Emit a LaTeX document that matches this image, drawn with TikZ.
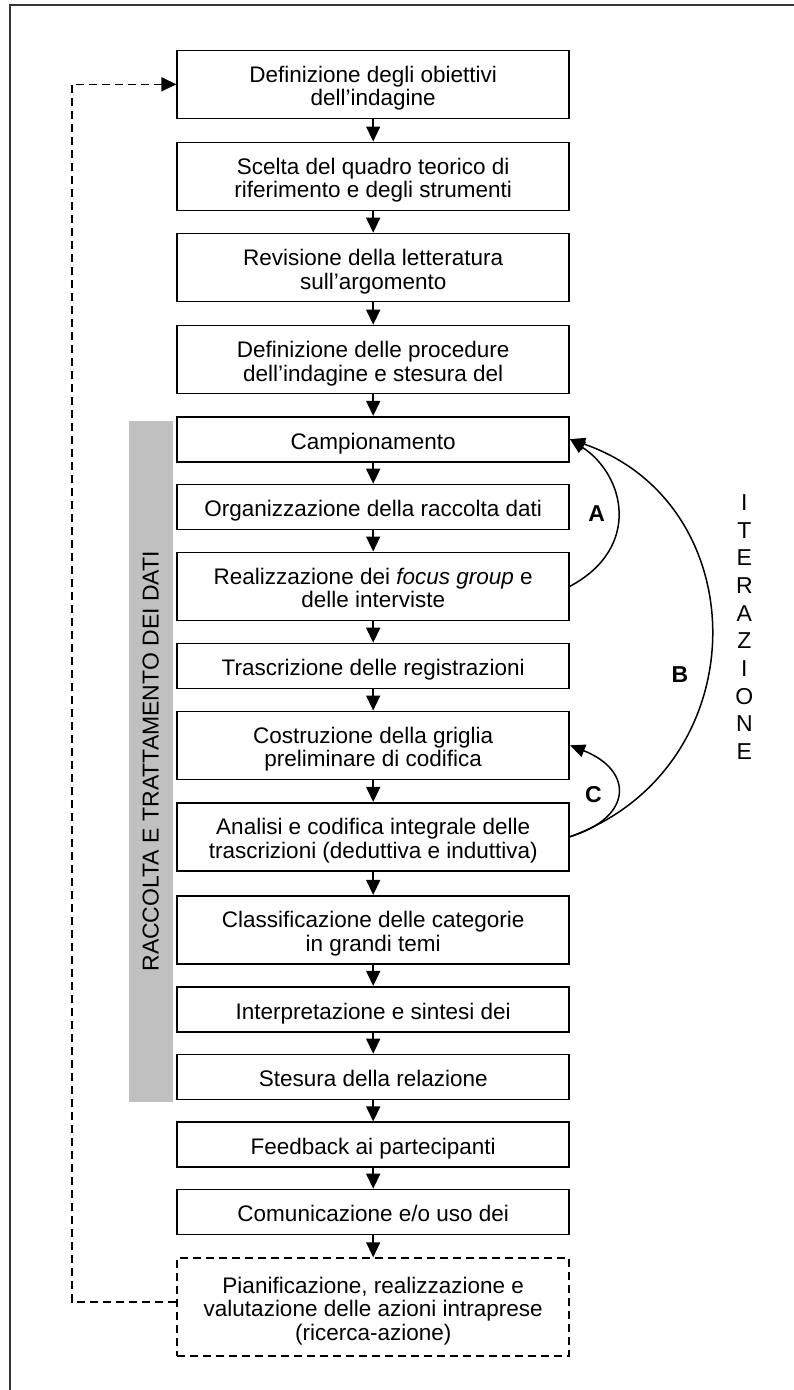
\documentclass[tikz,border=0pt]{standalone}
\usepackage{fontspec}
\setmainfont{Liberation Sans}
\usetikzlibrary{arrows.meta}
\definecolor{barg}{HTML}{C0C0C0}
\newcommand\TopS{\rule{0pt}{24.8pt}}
\newcommand\BotS{\rule[-5pt]{0pt}{5pt}}
\begin{document}
\begin{tikzpicture}[x=1pt,y=1pt,
  box/.style={draw, line width=1.6pt, minimum width=392pt, inner sep=0pt, align=center,
    font=\fontsize{22.5}{23.5}\selectfont},
  one/.style={box, minimum height=45pt},
  two/.style={box, minimum height=68pt},
  three/.style={box, minimum height=98pt},
  dashline/.style={line width=1.5pt, dash pattern=on 8pt off 5pt},
  flow/.style={-{Triangle[length=15pt,width=14pt]}, line width=1.5pt},
  iterloop/.style={-{Triangle[length=15pt,width=13pt]}, line width=1.5pt},
  lab/.style={font=\fontsize{23}{23}\selectfont\bfseries, inner sep=0pt}]
\useasboundingbox (0,0) rectangle (793,-1390);
% outer frame
\draw[line width=2pt, black!80] (9.5,-1392) -- (9.5,-4.5) -- (795,-4.5);
% grey band
\node[fill=barg, rotate=90, minimum width=680.7pt, minimum height=44.2pt, inner sep=0pt,
  font=\fontsize{23}{23}\selectfont] (bar) at (150.6,-761.35) {RACCOLTA E TRATTAMENTO DEI DATI};
% boxes
\node[two] (def1) at (373.2,-84.3) {\TopS Definizione degli obiettivi\\dell’indagine\BotS};
\node[two] (scelta) at (373.2,-176.3) {\TopS Scelta del quadro teorico di\\riferimento e degli strumenti\BotS};
\node[two] (rev) at (373.2,-267.5) {\TopS Revisione della letteratura\\sull’argomento\BotS};
\node[two] (def2) at (373.2,-359.5) {\TopS Definizione delle procedure\\dell’indagine e stesura del\BotS};
\node[one] (camp) at (373.2,-439.2) {\TopS Campionamento\BotS};
\node[one] (org) at (373.2,-507) {\TopS Organizzazione della raccolta dati\BotS};
\node[two] (real) at (373.2,-586.3) {\TopS Realizzazione dei \textit{focus group} e\\delle interviste\BotS};
\node[one] (tras) at (373.2,-666) {\TopS Trascrizione delle registrazioni\BotS};
\node[two] (cost) at (373.2,-745.3) {\TopS Costruzione della griglia\\preliminare di codifica\BotS};
\node[two] (anal) at (373.2,-836.7) {\TopS Analisi e codifica integrale delle\\trascrizioni (deduttiva e induttiva)\BotS};
\node[two] (class) at (373.2,-929.7) {\TopS Classificazione delle categorie\\in grandi temi\BotS};
\node[one] (interp) at (373.2,-1009.2) {\TopS Interpretazione e sintesi dei\BotS};
\node[one] (stes) at (373.2,-1077) {\TopS Stesura della relazione\BotS};
\node[one] (feed) at (373.2,-1144.7) {\TopS Feedback ai partecipanti\BotS};
\node[one] (com) at (373.2,-1212) {\TopS Comunicazione e/o uso dei\BotS};
\node[three, line width=1.5pt, dash pattern=on 8pt off 5pt] (pian) at (373.2,-1307)
  {\TopS Pianificazione, realizzazione e\\valutazione delle azioni intraprese\\(ricerca-azione)\BotS};
% main flow arrows
\foreach \a/\b in {def1/scelta, scelta/rev, rev/def2, def2/camp, camp/org, org/real,
  real/tras, tras/cost, cost/anal, anal/class, class/interp, interp/stes, stes/feed,
  feed/com, com/pian}
  \draw[flow] (\a) -- (\b);
% dashed feedback loop
\coordinate (lx) at (72,-700);
\draw[dashline, -{Triangle[length=15pt,width=14pt]}] ([yshift=5pt]pian.west) -| (lx) |- (def1.west);
% iteration arcs
\draw[iterloop] (real.east) .. controls +(72,38.7) and +(55,-36) .. (camp.east);
\draw[iterloop] (anal.east) .. controls +(188,68.4) and +(188,-65) .. (camp.east);
\draw[iterloop] (anal.east) .. controls +(63.5,19.6) and +(63.5,-25) .. (cost.east);
\node[lab] (la) at (596.7,-513.3) {A};
\node[lab] (lb) at (680,-675) {B};
\node[lab] (lc) at (593.3,-795) {C};
\node[font=\fontsize{23}{27.67}\selectfont, align=center, inner sep=0pt] (iter) at (744.3,-627.2)
  {I\\T\\E\\R\\A\\Z\\I\\O\\N\\E};
\end{tikzpicture}
\end{document}
